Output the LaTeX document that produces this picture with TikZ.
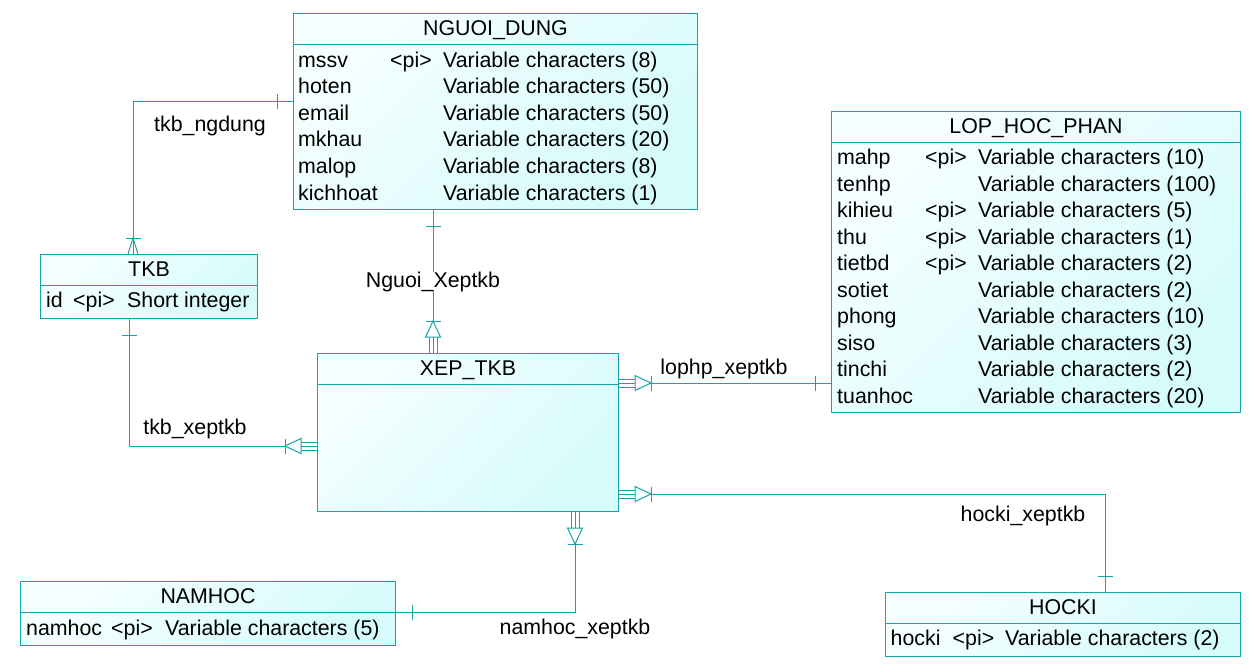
\documentclass[tikz,border=0pt]{standalone}
\usepackage{fontspec}
\setmainfont{Liberation Sans}
\definecolor{erline}{RGB}{20,166,166}
\definecolor{erfillA}{RGB}{246,255,255}
\definecolor{erfillB}{RGB}{214,251,251}
\tikzset{
  entity/.style={draw=erline, line width=1pt, top color=erfillA, bottom color=erfillB,
    shading angle=45, inner sep=0pt, anchor=north west},
  rel/.style={draw=erline, line width=1pt},
  txt/.style={inner sep=0pt, anchor=base west, font=\fontsize{21.35}{26}\selectfont},
  ttl/.style={inner sep=0pt, anchor=base, font=\fontsize{21.35}{26}\selectfont},
  lbl/.style={inner sep=0pt, anchor=base, font=\fontsize{21.35}{26}\selectfont},
  pics/dep/.style={code={
    \draw[rel] (0,-4) -- (16,-4) (0,0) -- (16,0) (0,4) -- (16,4);
    \draw[rel, fill=white] (16,-7.5) -- (32,0) -- (16,7.5) -- cycle;
    \draw[rel] (32,-7.5) -- (32,7.5);
  }},
  pics/one/.style={code={\draw[rel] (16,-7.5) -- (16,7.5);}},
  pics/crow/.style={code={
    \draw[rel] (0,-5) -- (16,0) -- (0,5);
    \draw[rel] (16,-7.5) -- (16,7.5);
  }}
}
\begin{document}
\begin{tikzpicture}[x=1pt,y=-1pt]
  \useasboundingbox (0,0) rectangle (1251,672);
  % entities
  \node[entity, minimum width=404pt, minimum height=196pt] (ngd) at (293,13) {};
  \node[entity, minimum width=409pt, minimum height=301pt] (lhp) at (831,111) {};
  \node[entity, minimum width=217pt, minimum height=64pt] (tkb) at (40,254) {};
  \node[entity, minimum width=301pt, minimum height=158pt] (xep) at (317,353) {};
  \node[entity, minimum width=375pt, minimum height=64pt] (nh) at (20,581) {};
  \node[entity, minimum width=355pt, minimum height=64pt] (hk) at (885,592) {};
  \foreach \e in {ngd,lhp,tkb,xep,nh,hk}
    \draw[rel] ([yshift=-31.5pt]\e.north west) -- ([yshift=-31.5pt]\e.north east);
  % titles
  \node[ttl] (ngd-t) at ([yshift=-22.5pt]ngd.north) {NGUOI\_DUNG};
  \node[ttl] (lhp-t) at ([yshift=-22.5pt]lhp.north) {LOP\_HOC\_PHAN};
  \node[ttl] (tkb-t) at ([yshift=-22.5pt]tkb.north) {TKB};
  \node[ttl] (xep-t) at ([yshift=-22.5pt]xep.north) {XEP\_TKB};
  \node[ttl] (nh-t) at ([yshift=-22.5pt]nh.north) {NAMHOC};
  \node[ttl] (hk-t) at ([yshift=-22.5pt]hk.north) {HOCKI};
  % attributes
  \foreach \n/\p/\t [count=\i from 0] in {mssv/<pi>/Variable characters (8),
      hoten//Variable characters (50), email//Variable characters (50),
      mkhau//Variable characters (20), malop//Variable characters (8),
      kichhoat//Variable characters (1)} {
    \node[txt] (ngd-n\i) at (298,{67+26.6*\i}) {\n};
    \node[txt] (ngd-p\i) at (390,{67+26.6*\i}) {\p};
    \node[txt] (ngd-v\i) at (443,{67+26.6*\i}) {\t};
  }
  \foreach \n/\p/\t [count=\i from 0] in {mahp/<pi>/Variable characters (10),
      tenhp//Variable characters (100), kihieu/<pi>/Variable characters (5),
      thu/<pi>/Variable characters (1), tietbd/<pi>/Variable characters (2),
      sotiet//Variable characters (2), phong//Variable characters (10),
      siso//Variable characters (3), tinchi//Variable characters (2),
      tuanhoc//Variable characters (20)} {
    \node[txt] (lhp-n\i) at (837,{164.5+26.56*\i}) {\n};
    \node[txt] (lhp-p\i) at (925,{164.5+26.56*\i}) {\p};
    \node[txt] (lhp-v\i) at (978,{164.5+26.56*\i}) {\t};
  }
  \node[txt] (tkb-n) at (46,307.5) {id};
  \node[txt] (tkb-p) at (73,307.5) {<pi>};
  \node[txt] (tkb-v) at (127,307.5) {Short integer};
  \node[txt] (nh-n) at (26,635.5) {namhoc};
  \node[txt] (nh-p) at (111,635.5) {<pi>};
  \node[txt] (nh-v) at (165,635.5) {Variable characters (5)};
  \node[txt] (hk-n) at (890.5,645.5) {hocki};
  \node[txt] (hk-p) at (952.5,645.5) {<pi>};
  \node[txt] (hk-v) at (1005,645.5) {Variable characters (2)};
  % relationships
  \draw[rel] (ngd.west |- 0,101) -| (tkb.north -| 133,0);
  \draw[rel] (ngd.south -| 433,0) -- (xep.north -| 433,0);
  \draw[rel] (xep.east |- 0,383) -- (lhp.west |- 0,383);
  \draw[rel] (xep.east |- 0,494) -| (hk.north -| 1105,0);
  \draw[rel] (xep.west |- 0,446) -| (tkb.south -| 129,0);
  \draw[rel] (xep.south -| 575,0) |- (nh.east |- 0,612);
  % cardinality marks
  \pic[rotate=180] at (ngd.west |- 0,101) {one};
  \pic[rotate=90] at (tkb.north -| 133,0) {crow};
  \pic[rotate=-90] at (ngd.south -| 433,0) {one};
  \pic[rotate=90] at (xep.north -| 433,0) {dep};
  \pic at (xep.east |- 0,383) {dep};
  \pic[rotate=180] at (lhp.west |- 0,383) {one};
  \pic at (xep.east |- 0,494) {dep};
  \pic[rotate=90] at (hk.north -| 1105,0) {one};
  \pic[rotate=180] at (xep.west |- 0,446) {dep};
  \pic[rotate=-90] at (tkb.south -| 129,0) {one};
  \pic[rotate=-90] at (xep.south -| 575,0) {dep};
  \pic at (nh.east |- 0,612) {one};
  % labels
  \node[lbl] (l-ngd) at (210,131) {tkb\_ngdung};
  \node[lbl, fill=white] (l-ngx) at (433,287) {Nguoi\_Xeptkb};
  \node[lbl] (l-lhp) at (724,374.5) {lophp\_xeptkb};
  \node[lbl] (l-tkb) at (195,434) {tkb\_xeptkb};
  \node[lbl] (l-hk) at (1023,521.5) {hocki\_xeptkb};
  \node[lbl] (l-nh) at (575,634) {namhoc\_xeptkb};
\end{tikzpicture}
\end{document}
